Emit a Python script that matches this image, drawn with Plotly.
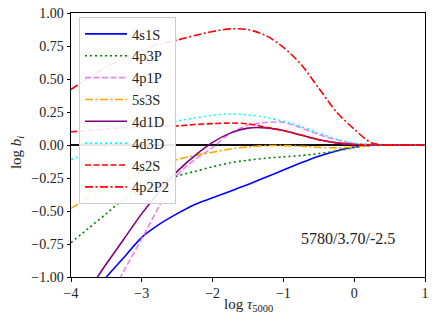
import plotly.graph_objects as go

# log tau_5000 grid shared by all departure-coefficient curves
LOG_TAU = [-4.0, -3.75, -3.5, -3.25, -3.0, -2.75, -2.5, -2.25, -2.0, -1.75, -1.5,
           -1.25, -1.0, -0.75, -0.5, -0.25, 0.0, 0.25, 0.5, 0.75, 1.0]

B_4S1S = [-1.35, -1.17, -1.0, -0.85, -0.70, -0.60, -0.52, -0.45, -0.40, -0.35, -0.30,
          -0.245, -0.19, -0.135, -0.085, -0.045, -0.015, -0.002, 0.0, 0.0, 0.0]
B_4P3P = [-0.74, -0.63, -0.52, -0.41, -0.345, -0.285, -0.235, -0.20, -0.165, -0.135, -0.115,
          -0.10, -0.09, -0.08, -0.065, -0.045, -0.02, -0.003, 0.0, 0.0, 0.0]
B_4P1P = [-1.7, -1.45, -1.2, -0.95, -0.71, -0.46, -0.23, -0.11, -0.02, 0.09, 0.15,
          0.17, 0.172, 0.13, 0.08, 0.04, 0.012, 0.002, 0.0, 0.0, 0.0]
B_5S3S = [-0.48, -0.40, -0.33, -0.27, -0.21, -0.155, -0.11, -0.08, -0.055, -0.03, -0.015,
          -0.005, -0.005, -0.01, -0.018, -0.022, -0.015, -0.003, 0.0, 0.0, 0.0]
B_4D1D = [-1.3, -1.1, -0.9, -0.71, -0.52, -0.35, -0.20, -0.08, 0.02, 0.09, 0.128,
          0.13, 0.11, 0.075, 0.04, 0.016, 0.004, 0.0, 0.0, 0.0, 0.0]
B_4D3D = [-0.11, -0.06, -0.01, 0.04, 0.09, 0.14, 0.18, 0.205, 0.225, 0.235, 0.228,
          0.21, 0.18, 0.14, 0.09, 0.045, 0.015, 0.002, 0.0, 0.0, 0.0]
B_4S2S = [0.10, 0.11, 0.12, 0.13, 0.135, 0.14, 0.145, 0.155, 0.162, 0.167, 0.16,
          0.135, 0.11, 0.075, 0.04, 0.016, 0.004, 0.0, 0.0, 0.0, 0.0]
B_4P2P2 = [0.42, 0.51, 0.59, 0.66, 0.72, 0.765, 0.795, 0.83, 0.86, 0.88, 0.875,
           0.83, 0.74, 0.61, 0.43, 0.25, 0.12, 0.015, 0.0, 0.0, 0.0]

LEVELS = ["4s1S", "4p3P", "4p1P", "5s3S", "4d1D", "4d3D", "4s2S", "4p2P2"]
SERIES = [B_4S1S, B_4P3P, B_4P1P, B_5S3S, B_4D1D, B_4D3D, B_4S2S, B_4P2P2]
COLORS = ["blue", "green", "violet", "orange", "purple", "cyan", "red", "red"]
DASHES = ["solid", "2px,3px", "6px,2.5px", "8px,2.5px,2px,2.5px",
          "solid", "2px,3px", "6px,2.5px", "8px,2.5px,2px,2.5px"]

MODEL_LABEL = "5780/3.70/-2.5"

FONT = "Liberation Serif"
TEXT = "#222222"

fig = go.Figure()
fig.add_hline(y=0, line_color="#111111", line_width=1.8, layer="below")

for name, values, color, dash in zip(LEVELS, SERIES, COLORS, DASHES):
    fig.add_trace(go.Scatter(
        x=LOG_TAU, y=values, mode="lines", name=name, legendgroup=name,
        line={"color": color, "dash": dash, "width": 1.6, "shape": "spline", "smoothing": 0.8},
    ))

fig.add_annotation(x=0.6, y=-0.71, xanchor="right", yanchor="middle", text=MODEL_LABEL,
                   showarrow=False, font={"family": FONT, "size": 16, "color": TEXT})

# axis titles as paper annotations so they sit where the reference has them
fig.add_annotation(x=0.5, y=-0.064, xref="paper", yref="paper", xanchor="center", yanchor="top",
                   text="log <i>τ</i><sub>5000</sub>", showarrow=False,
                   font={"family": FONT, "size": 15, "color": TEXT})
fig.add_annotation(x=-0.152, y=0.47, xref="paper", yref="paper", xanchor="center", yanchor="middle",
                   text="log <i>b<sub>i</sub></i>", textangle=-90, showarrow=False,
                   font={"family": FONT, "size": 15, "color": TEXT})

fig.update_layout(
    width=436, height=322,
    margin={"l": 71, "r": 11, "t": 13, "b": 45},
    plot_bgcolor="white", paper_bgcolor="white",
    font={"family": FONT, "size": 14, "color": TEXT},
    showlegend=True,
    legend={
        "x": 0.0226, "y": 0.985, "xanchor": "left", "yanchor": "top",
        "bgcolor": "rgba(255,255,255,0.9)", "bordercolor": "#cccccc", "borderwidth": 1,
        "font": {"family": FONT, "size": 14.5, "color": TEXT},
        "tracegroupgap": 0, "traceorder": "grouped", "itemwidth": 42,
    },
)
fig.update_xaxes(
    range=[-4, 1], tickvals=[-4, -3, -2, -1, 0, 1], automargin=False, ticklabeloverflow="allow",
    showline=True, mirror=True, linecolor="black", linewidth=1,
    ticks="outside", ticklen=3.5, tickcolor="black", showgrid=False, zeroline=False,
)
fig.update_yaxes(
    range=[-1, 1], tickvals=[-1, -0.75, -0.5, -0.25, 0, 0.25, 0.5, 0.75, 1], tickformat=".2f",
    automargin=False, ticklabeloverflow="allow",
    showline=True, mirror=True, linecolor="black", linewidth=1,
    ticks="outside", ticklen=3.5, tickcolor="black", showgrid=False, zeroline=False,
)

# drop the default 8px body margin so the figure fills the window exactly
fig.write_html("out.html", config={"displayModeBar": False},
               post_script="document.body.style.margin = '0px';")
